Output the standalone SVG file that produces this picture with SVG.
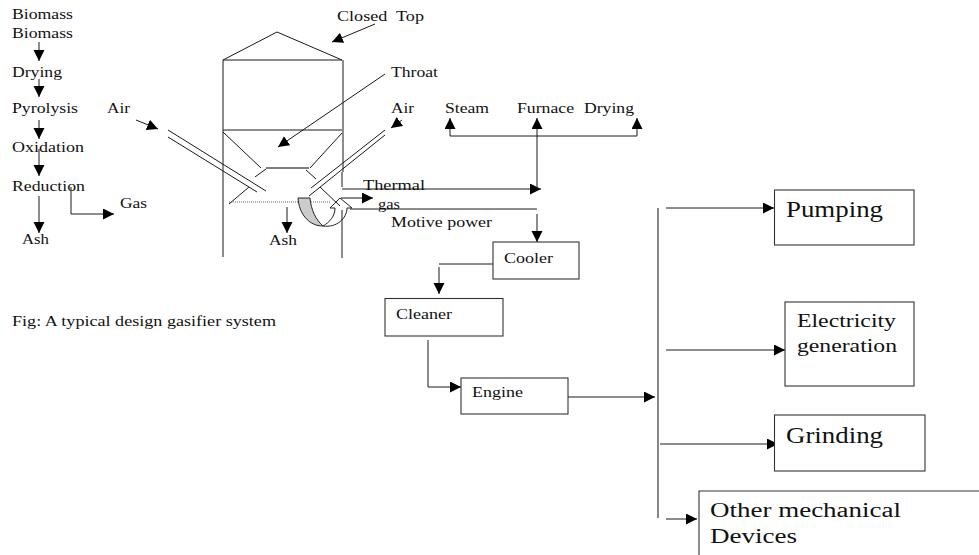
<svg xmlns="http://www.w3.org/2000/svg" width="979" height="555" viewBox="0 0 979 555">
<style>
text{font-family:"Liberation Serif","Times New Roman",serif;font-size:14px;fill:#111}
text.b{font-size:24px}
text.m{font-size:18px}
text.o{font-size:20px}
.l,.a{fill:none;stroke:#1a1a1a;stroke-width:1}
.a{marker-end:url(#h)}
.g{fill:none;stroke:#555;stroke-width:1.4}
.box{fill:#fff;stroke:#333;stroke-width:1.1}
</style>
<defs>
<marker id="h" markerUnits="userSpaceOnUse" markerWidth="12" markerHeight="12" refX="11" refY="5.500" orient="auto"><path d="M0 0L11 5.500L0 11Z" fill="#000"/></marker>
</defs>
<rect width="979" height="555" fill="#fff"/>
<g id="gasifier">
<path class="l" d="M223 60L277 32L342 60M223 60H342M223 60V257M343 60V172M342 172V187M342 210V258M223 130H342"/>
<path class="l" d="M223 132L261 168M342 133L310 168M266 169L255 177M306 170L316 179M168 130L266 191M168 137L257 192M249 187L229 204M320 187L340 206M385 130L311 188M385 135L309 196"/>
<path class="g" d="M266 168H309"/>
<path d="M229 202H330" fill="none" stroke="#666" stroke-dasharray="1 1"/>
<path d="M298 198H310C311 210 316 220 323 226C309 226 299 214 298 198Z" fill="#ccc" stroke="#222"/>
<path d="M323 226C337 228 347 218 347 208H352L340 198L330 208H335C335 216 330 222 323 226" fill="none" stroke="#222"/>
</g>
<g id="connectors">
<path class="a" d="M39 42V61"/>
<path class="a" d="M39 79V97"/>
<path class="a" d="M39 120V139"/>
<path class="a" d="M39 149V176"/>
<path class="a" d="M39 196V233"/>
<path class="a" d="M71 187V214H114"/>
<path class="a" d="M136 120L158 129"/>
<path class="a" d="M375 24L332 42"/>
<path class="a" d="M385 74L278 147"/>
<path class="a" d="M402 120L391 128"/>
<path class="a" d="M287 207V233"/>
<path class="a" d="M341 198H373" style="stroke:#555;stroke-width:1.4"/>
<path class="a" d="M342 189H541"/>
<path class="l" d="M350 209H537"/>
<path class="a" d="M537 189V118"/>
<path class="a" d="M637 136H450V118"/>
<path class="a" d="M637 136V118"/>
<path class="a" d="M537 214V242"/>
<path class="l" d="M493 264H439"/>
<path class="a" d="M439 267V294"/>
<path class="a" d="M428 340V387H461"/>
<path class="a" d="M568 397H655"/>
<path class="g" d="M658 208V518"/>
<path class="a" d="M666 208H774"/>
<path class="a" d="M666 350H785"/>
<path class="a" d="M660 444H778"/>
<path class="a" d="M666 519H697"/>
</g>
<g id="process-labels">
<text x="12" y="19" textLength="61" lengthAdjust="spacingAndGlyphs">Biomass</text>
<text x="12" y="38" textLength="61" lengthAdjust="spacingAndGlyphs">Biomass</text>
<text x="12" y="77" textLength="50" lengthAdjust="spacingAndGlyphs">Drying</text>
<text x="12" y="113" textLength="66" lengthAdjust="spacingAndGlyphs">Pyrolysis</text>
<text x="12" y="152" textLength="72" lengthAdjust="spacingAndGlyphs">Oxidation</text>
<text x="12" y="191" textLength="73" lengthAdjust="spacingAndGlyphs">Reduction</text>
<text x="22" y="244" textLength="27" lengthAdjust="spacingAndGlyphs">Ash</text>
<text x="120" y="208" textLength="27" lengthAdjust="spacingAndGlyphs">Gas</text>
<text x="107" y="113" textLength="23" lengthAdjust="spacingAndGlyphs">Air</text>
<text x="337" y="21" textLength="87" lengthAdjust="spacingAndGlyphs" xml:space="preserve">Closed  Top</text>
<text x="391" y="77" textLength="47" lengthAdjust="spacingAndGlyphs">Throat</text>
<text x="391" y="113" textLength="23" lengthAdjust="spacingAndGlyphs">Air</text>
<text x="445" y="113" textLength="44" lengthAdjust="spacingAndGlyphs">Steam</text>
<text x="517" y="113" textLength="57" lengthAdjust="spacingAndGlyphs">Furnace</text>
<text x="584" y="113" textLength="50" lengthAdjust="spacingAndGlyphs">Drying</text>
<text x="363" y="190" textLength="62" lengthAdjust="spacingAndGlyphs">Thermal</text>
<text x="378" y="209" textLength="22" lengthAdjust="spacingAndGlyphs">gas</text>
<text x="391" y="227" textLength="101" lengthAdjust="spacingAndGlyphs">Motive power</text>
<text x="269" y="245" textLength="28" lengthAdjust="spacingAndGlyphs">Ash</text>
<text x="12" y="326" textLength="264" lengthAdjust="spacingAndGlyphs">Fig: A typical design gasifier system</text>
</g>
<g id="cooler"><rect class="box" x="493" y="242" width="86" height="37"/><text x="504" y="263" textLength="49" lengthAdjust="spacingAndGlyphs">Cooler</text></g>
<g id="cleaner"><rect class="box" x="385" y="298.500" width="118" height="37.500"/><text x="396" y="319" textLength="56" lengthAdjust="spacingAndGlyphs">Cleaner</text></g>
<g id="engine"><rect class="box" x="461" y="378" width="107" height="36"/><text x="472" y="397" textLength="51" lengthAdjust="spacingAndGlyphs">Engine</text></g>
<g id="pumping"><rect class="box" x="774.500" y="190" width="139.500" height="55"/><text class="b" x="786" y="217" textLength="97" lengthAdjust="spacingAndGlyphs">Pumping</text></g>
<g id="electricity"><rect class="box" x="785" y="302" width="129" height="84"/><text class="m" x="797" y="327" textLength="99" lengthAdjust="spacingAndGlyphs">Electricity</text><text class="m" x="797" y="352" textLength="100" lengthAdjust="spacingAndGlyphs">generation</text></g>
<g id="grinding"><rect class="box" x="774.500" y="415" width="150.500" height="56"/><text class="b" x="786" y="443" textLength="97" lengthAdjust="spacingAndGlyphs">Grinding</text></g>
<g id="other"><path class="box" d="M979 491H699V555" fill="none"/><text class="o" x="710" y="517" textLength="191" lengthAdjust="spacingAndGlyphs">Other mechanical</text><text class="o" x="710" y="543" textLength="87" lengthAdjust="spacingAndGlyphs">Devices</text></g>
</svg>
